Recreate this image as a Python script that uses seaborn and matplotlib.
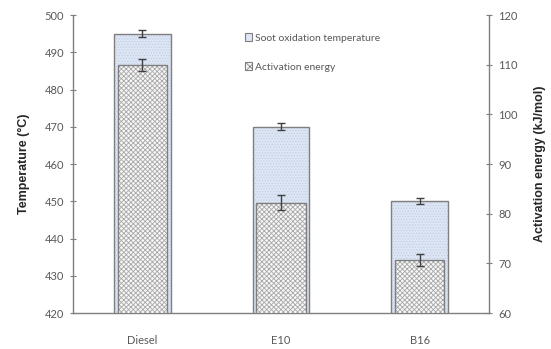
import matplotlib
matplotlib.use("Agg")
import matplotlib.pyplot as plt
from matplotlib.patches import Patch
import seaborn as sns
import pandas as pd

# Fuel samples and measured values
fuels = ["Diesel", "E10", "B16"]
soot_temp = [495, 470, 450]          # soot oxidation temperature, °C
soot_temp_err = [1.0, 1.0, 0.8]
act_energy = [110.0, 82.2, 70.6]     # activation energy, kJ/mol
act_energy_err = [1.2, 1.5, 1.2]

temp_ticks = [420, 430, 440, 450, 460, 470, 480, 490, 500]
energy_ticks = [60, 70, 80, 90, 100, 110, 120]

df = pd.DataFrame({"fuel": fuels, "temp": soot_temp, "energy": act_energy})

sns.set_style("white")
plt.rcParams["font.family"] = ["Lato", "DejaVu Sans"]
plt.rcParams["hatch.linewidth"] = 0.6

fig = plt.figure(figsize=(5.51, 3.49), dpi=100)
ax = fig.add_axes([0.1325, 0.103, 0.755, 0.854])
ax2 = ax.twinx()

axis_grey = "#7f7f7f"
text_grey = "#595959"

# Temperature bars: light blue with a fine dotted texture
sns.barplot(data=df, x="fuel", y="temp", ax=ax, width=0.41, color="#dde6f5",
            errorbar=None, saturation=1)
for p in ax.patches:
    p.set_hatch("......")
    p.set_edgecolor("#c3cee2")
    p.set_linewidth(0)
# outline drawn separately so the dots stay light
sns.barplot(data=df, x="fuel", y="temp", ax=ax, width=0.41, fill=False,
            errorbar=None, color=axis_grey, linewidth=1.0)
ax.errorbar(range(len(fuels)), soot_temp, yerr=soot_temp_err, fmt="none",
            ecolor="#404040", elinewidth=1.0, capsize=3, capthick=1.0, zorder=5)

# Activation energy bars: fine cross-hatch, narrower, on the secondary axis
sns.barplot(data=df, x="fuel", y="energy", ax=ax2, width=0.355, color="#f7f7f7",
            errorbar=None, saturation=1)
for p in ax2.patches:
    p.set_hatch("xxxxxxx")
    p.set_edgecolor("#a8a8a8")
    p.set_linewidth(0)
sns.barplot(data=df, x="fuel", y="energy", ax=ax2, width=0.355, fill=False,
            errorbar=None, color=axis_grey, linewidth=1.0)
ax2.errorbar(range(len(fuels)), act_energy, yerr=act_energy_err, fmt="none",
             ecolor="#404040", elinewidth=1.0, capsize=3, capthick=1.0, zorder=5)

ax.set_xlim(-0.5, 2.5)
ax.set_ylim(temp_ticks[0], temp_ticks[-1])
ax2.set_ylim(energy_ticks[0], energy_ticks[-1])
ax.set_yticks(temp_ticks)
ax2.set_yticks(energy_ticks)

# category labels at the bar centres, tick marks between categories
ax.set_xticks(range(len(fuels)))
ax.set_xticklabels(fuels)
ax.set_xticks([0.5, 1.5], minor=True)
ax.tick_params(axis="x", which="major", length=0, pad=16, labelsize=8,
               labelcolor=text_grey)
ax.tick_params(axis="x", which="minor", length=5, direction="inout",
               color=axis_grey, width=0.8)
ax.tick_params(axis="y", length=5, direction="inout", color=axis_grey,
               width=0.8, labelsize=8, labelcolor=text_grey, pad=4)
ax2.tick_params(axis="y", length=5, direction="inout", color=axis_grey,
                width=0.8, labelsize=8, labelcolor=text_grey, pad=4)

for a in (ax, ax2):
    a.spines["top"].set_visible(False)
    for s in ("left", "right", "bottom"):
        a.spines[s].set_color(axis_grey)
        a.spines[s].set_linewidth(1.0)
ax.spines["right"].set_visible(False)
ax2.spines["left"].set_visible(False)
ax2.spines["bottom"].set_visible(False)

ax.set_xlabel("")
ax2.set_xlabel("")
ax.set_ylabel("Temperature (°C)", family=["Liberation Sans", "DejaVu Sans"],
              fontsize=9, fontweight="bold", color="#262626", labelpad=10)
ax2.set_ylabel("Activation energy (kJ/mol)", family=["Liberation Sans", "DejaVu Sans"],
               fontsize=9, fontweight="bold", color="#262626", labelpad=12,
               rotation=90)

handles = [
    Patch(facecolor="#dde6f5", edgecolor=axis_grey, linewidth=0.8,
          label="Soot oxidation temperature"),
    Patch(facecolor="#f7f7f7", edgecolor=axis_grey, hatch="xxxx", linewidth=0.8,
          label="Activation energy"),
]
leg = ax2.legend(handles=handles, loc="upper left", bbox_to_anchor=(0.39, 0.97),
                 frameon=False, fontsize=7.5, handlelength=0.7, handleheight=0.7,
                 handletextpad=0.3, labelspacing=1.9)
for t in leg.get_texts():
    t.set_color(text_grey)

fig.savefig("out.png", dpi=100)
